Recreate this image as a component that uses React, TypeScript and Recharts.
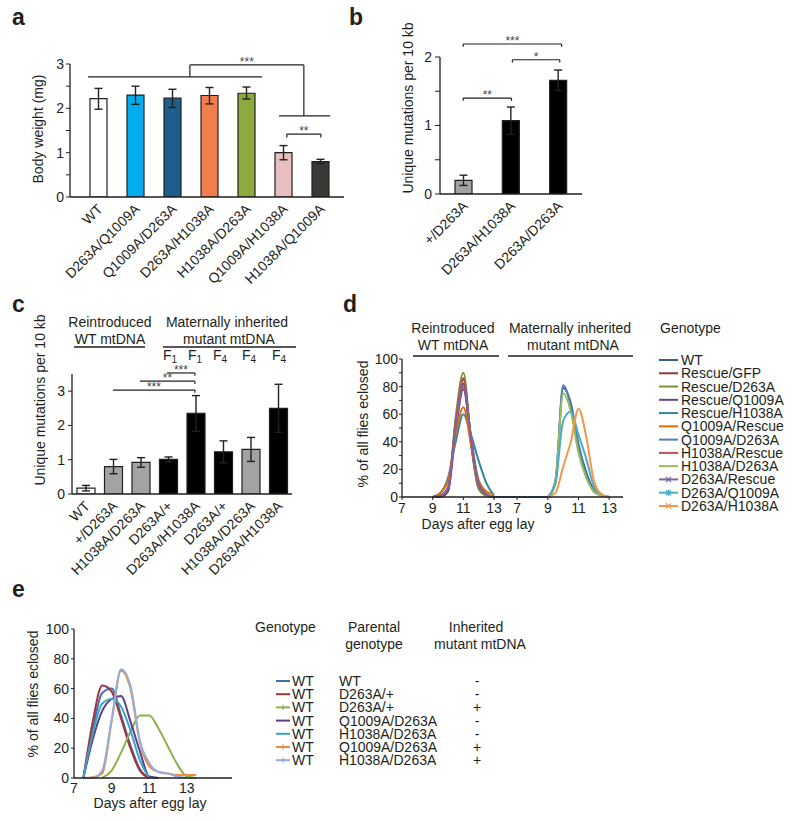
import React from 'react';
import { BarChart, Bar, XAxis, YAxis, ErrorBar, Cell, ReferenceLine, LineChart, Line } from 'recharts';

const FONT = '"Liberation Sans", Arial, Helvetica, sans-serif';
const INK = '#231F20';
const AXIS_H = 30;

// bracket x positions are in bar-index units (0 = centre of first bar)
type Bracket = { x1: number; x2: number; y: number; yl?: number; yr?: number; stars?: string };

/* ---------- a: body weight ---------- */
const aGenotypes = ['WT', 'D263A/Q1009A', 'Q1009A/D263A', 'D263A/H1038A', 'H1038A/D263A', 'Q1009A/H1038A', 'H1038A/Q1009A'];
const aWeight = [2.22, 2.30, 2.23, 2.29, 2.34, 1.0, 0.8];
const aErrLow = [0.24, 0.21, 0.21, 0.19, 0.13, 0.16, 0.05];
const aErrHigh = [0.23, 0.2, 0.2, 0.18, 0.14, 0.16, 0.05];
const aFills = ['#FFFFFF', '#00AEEF', '#1D5E8C', '#F27E4C', '#8DAA3E', '#E7BFBF', '#3A3A35'];
const aTicks = [0, 0.5, 1, 1.5, 2, 2.5, 3];
const aBrackets: Bracket[] = [
  { x1: 2.47, x2: 5.55, y: 2.98, yl: 2.71, yr: 1.83, stars: '***' },
  { x1: -0.28, x2: 4.42, y: 2.71 },
  { x1: 4.88, x2: 6.26, y: 1.83 },
  { x1: 5.09, x2: 6.01, y: 1.42, yl: 1.34, yr: 1.34, stars: '**' },
];

/* ---------- b: mutations ---------- */
const bGenotypes = ['+/D263A', 'D263A/H1038A', 'D263A/D263A'];
const bMutations = [0.2, 1.07, 1.66];
const bErr = [0.075, 0.2, 0.15];
const bFills = ['#A3A3A3', '#000000', '#000000'];
const bTicks = [0, 0.5, 1, 1.5, 2];
const bBrackets: Bracket[] = [
  { x1: -0.01, x2: 2.07, y: 2.19, yl: 2.15, yr: 2.15, stars: '***' },
  { x1: 1.03, x2: 2.03, y: 1.96, yl: 1.92, yr: 1.92, stars: '*' },
  { x1: -0.01, x2: 1.01, y: 1.4, yl: 1.36, yr: 1.36, stars: '**' },
];

/* ---------- c: mutations over generations ---------- */
const cGenotypes = ['WT', '+/D263A', 'H1038A/D263A', 'D263A/+', 'D263A/H1038A', 'D263A/+', 'H1038A/D263A', 'D263A/H1038A'];
const cMutations = [0.17, 0.8, 0.92, 1.01, 2.35, 1.23, 1.3, 2.5];
const cErr = [0.08, 0.21, 0.14, 0.07, 0.52, 0.32, 0.35, 0.7];
const cFills = ['#FFFFFF', '#A3A3A3', '#A3A3A3', '#000000', '#000000', '#000000', '#A3A3A3', '#000000'];
const cTicks = [0, 1, 2, 3];
const cGenerations = ['1', '1', '4', '4', '4'];
const cGenerationX = [163, 188, 213, 242, 272];
const cBrackets: Bracket[] = [
  { x1: 0.99, x2: 3.97, y: 3.03, yr: 2.95, stars: '***' },
  { x1: 1.97, x2: 3.97, y: 3.29, yr: 3.21, stars: '**' },
  { x1: 2.95, x2: 3.97, y: 3.53, yr: 3.45, stars: '***' },
];

/* ---------- d: eclosion, two blocks ---------- */
const dDays = [9, 9.5, 10, 10.5, 11, 11.5, 12, 12.5, 13];
const dSecondBlockShift = 7.5;
const dDomain: [number, number] = [7, 21.4];
const dFirstBlockTicks = [7, 9, 11, 13];
const dSecondBlockTicks = [7, 9, 11, 13];
const dGenotypes = ['WT', 'Rescue/GFP', 'Rescue/D263A', 'Rescue/Q1009A', 'Rescue/H1038A', 'Q1009A/Rescue', 'Q1009A/D263A', 'H1038A/Rescue', 'H1038A/D263A', 'D263A/Rescue', 'D263A/Q1009A', 'D263A/H1038A'];
const dColors = ['#376092', '#953735', '#77933C', '#604A7B', '#31859C', '#E46C0A', '#4F81BD', '#C0504D', '#9BBB59', '#8064A2', '#4BACC6', '#F79646'];
const dMarkers = ['', '', '', '', '', '', '', '', '', 'x', '*', 'x'];
const dReintroduced: (number[] | null)[] = [
  [0, 1, 7, 52, 82, 38, 6, 1, 0],
  [0, 1, 6, 55, 86, 40, 8, 2, 0],
  [0, 1, 5, 58, 90, 40, 6, 1, 0],
  [0, 0, 4, 48, 78, 42, 10, 2, 0],
  [0, 3, 14, 40, 60, 45, 26, 10, 1],
  [0, 3, 12, 45, 65, 38, 12, 4, 2],
  null,
  [0, 1, 6, 54, 85, 42, 8, 2, 0],
  null,
  [0, 1, 7, 50, 80, 44, 10, 2, 0],
  null,
  null,
];
const dInherited: (number[] | null)[] = [
  [0, 12, 79, 68, 38, 18, 5, 1, 0],
  null,
  null,
  null,
  null,
  null,
  [0, 10, 81, 66, 36, 16, 4, 1, 0],
  null,
  [0, 12, 75, 62, 32, 14, 4, 1, 0],
  null,
  [0, 10, 55, 62, 45, 28, 8, 2, 0],
  [0, 3, 22, 40, 64, 44, 12, 2, 0],
];

/* ---------- e: eclosion of WT offspring ---------- */
const eDays = [7.5, 8, 8.5, 9, 9.5, 10, 10.5, 11, 11.5, 12, 12.5, 13, 13.5];
const eGenotypes = ['WT', 'WT', 'WT', 'WT', 'WT', 'WT', 'WT'];
const eParental = ['WT', 'D263A/+', 'D263A/+', 'Q1009A/D263A', 'H1038A/D263A', 'Q1009A/D263A', 'H1038A/D263A'];
const eInheritedMutant = ['-', '-', '+', '-', '-', '+', '+'];
const eColors = ['#3E6FB0', '#A3343A', '#8DB04A', '#5B3F8C', '#3BA3C4', '#F08A3C', '#93AEDC'];
const eMarkers = ['', '', '+', '', '', '+', '+'];
const eCurves: (number | null)[][] = [
  [0, 33, 57, 60, 42, 22, 6, 0, null, null, null, null, null],
  [0, 38, 62, 58, 40, 20, 5, 0, null, null, null, null, null],
  [null, null, 0, 5, 17, 31, 42, 42, 33, 21, 9, 1, 0],
  [0, 26, 45, 53, 55, 38, 18, 1, 0, null, null, null, null],
  [0, 30, 50, 53, 48, 32, 12, 0, null, null, null, null, null],
  [0, 0.5, 3, 38, 72, 60, 24, 8, 4, 3, 2, 2, 2],
  [0, 0, 5, 39, 73, 62, 25, 10, 4, 3, 1, 0, null],
];

/* ---------- d chart geometry ---------- */
const D_LEFT = 330, D_TOP = 320, D_W = 310, D_H = 230, D_YW = 72, D_MR = 17, D_MB = 53;
const dPlotLeft = D_LEFT + D_YW;
const dPlotWidth = D_W - D_YW - D_MR;
const dPlotBottom = D_TOP + D_H - D_MB;
const dPos = (v: number) => dPlotLeft + ((v - dDomain[0]) / (dDomain[1] - dDomain[0])) * dPlotWidth;
const dAxisTicks = [...dFirstBlockTicks, ...dSecondBlockTicks.map((d) => d + dSecondBlockShift)];

/* ---------- helpers ---------- */
function bracketLines(list: Bracket[], prefix: string) {
  const out: React.ReactNode[] = [];
  list.forEach((b, i) => {
    out.push(
      <ReferenceLine
        key={`${prefix}h${i}`}
        xAxisId="n"
        segment={[{ x: b.x1, y: b.y }, { x: b.x2, y: b.y }]}
        stroke={INK}
        strokeWidth={1.2}
        ifOverflow="visible"
        label={b.stars ? { value: b.stars, position: 'top', offset: -1, fontSize: 12, fill: '#444' } : undefined}
      />
    );
    if (b.yl != null)
      out.push(
        <ReferenceLine key={`${prefix}l${i}`} xAxisId="n" segment={[{ x: b.x1, y: b.y }, { x: b.x1, y: b.yl }]} stroke={INK} strokeWidth={1.2} ifOverflow="visible" />
      );
    if (b.yr != null)
      out.push(
        <ReferenceLine key={`${prefix}r${i}`} xAxisId="n" segment={[{ x: b.x2, y: b.y }, { x: b.x2, y: b.yr }]} stroke={INK} strokeWidth={1.2} ifOverflow="visible" />
      );
  });
  return out;
}

const intLabel = (v: number) => (Number.isInteger(v) ? String(v) : '');
const every20 = (v: number) => (v % 20 === 0 ? String(v) : '');

function rotTick(labels: string[]) {
  return (p: any) => {
    const tx = p.x + 5;
    const ty = p.y + 11;
    return (
      <text x={tx} y={ty} transform={`rotate(-45 ${tx} ${ty})`} textAnchor="end" fontSize={14} fill={INK} fontFamily={FONT}>
        {labels[Number(p.payload.value)]}
      </text>
    );
  };
}

const emptyTick = () => <g />;

type BarPanelProps = {
  left: number; top: number; width: number; height: number;
  margin: { top: number; right: number; bottom: number; left: number };
  yWidth: number; domain: [number, number]; ticks: number[];
  names: string[]; values: number[]; errs: (number | number[])[]; fills: string[];
  barSize: number; padding: { left: number; right: number }; brackets: Bracket[];
  tickSize: number; tickMargin: number; prefix: string;
};

function BarPanel(pr: BarPanelProps) {
  const data = pr.names.map((n, i) => ({ id: i, value: pr.values[i], err: pr.errs[i] }));
  const m = { ...pr.margin, bottom: pr.margin.bottom - AXIS_H };
  const n = pr.names.length;
  const bandHalf = (pr.width - pr.margin.left - pr.margin.right - pr.yWidth - pr.padding.left - pr.padding.right) / n / 2;
  const idPadding = { left: pr.padding.left + bandHalf, right: pr.padding.right + bandHalf };
  return (
    <div style={{ position: 'absolute', left: pr.left, top: pr.top }}>
      <BarChart width={pr.width} height={pr.height} data={data} margin={m} barCategoryGap={0}>
        <XAxis
          dataKey="id"
          type="category"
          height={AXIS_H}
          padding={pr.padding}
          interval={0}
          tickLine={false}
          tickSize={0}
          tick={rotTick(pr.names)}
          axisLine={{ stroke: INK, strokeWidth: 1.3 }}
        />
        <XAxis xAxisId="n" dataKey="id" type="number" domain={[0, n - 1]} padding={idPadding} hide allowDataOverflow />
        <YAxis
          width={pr.yWidth}
          domain={pr.domain}
          ticks={pr.ticks}
          interval={0}
          allowDataOverflow
          tickFormatter={intLabel}
          tickSize={pr.tickSize}
          tickMargin={pr.tickMargin}
          tick={{ fontSize: 14, fill: INK, fontFamily: FONT }}
          axisLine={{ stroke: INK, strokeWidth: 1.3 }}
          tickLine={{ stroke: INK, strokeWidth: 1 }}
        />
        <Bar dataKey="value" barSize={pr.barSize} stroke={INK} strokeWidth={1.2} isAnimationActive={false}>
          {pr.fills.map((f, i) => (
            <Cell key={i} fill={f} />
          ))}
          <ErrorBar dataKey="err" width={4} stroke={INK} strokeWidth={1.4} />
        </Bar>
        {bracketLines(pr.brackets, pr.prefix)}
      </BarChart>
    </div>
  );
}

/* ---------- line data ---------- */
const dData = [
  ...dDays.map((d, j) => {
    const row: Record<string, number> = { x: d };
    dReintroduced.forEach((arr, i) => {
      if (arr) row['s' + i] = arr[j];
    });
    return row;
  }),
  ...dDays.map((d, j) => {
    const row: Record<string, number> = { x: d + dSecondBlockShift };
    dInherited.forEach((arr, i) => {
      if (arr) row['s' + i] = arr[j];
    });
    return row;
  }),
];

const eData = eDays.map((d, j) => {
  const row: Record<string, number | null> = { x: d };
  eCurves.forEach((arr, i) => {
    row['s' + i] = arr[j];
  });
  return row;
});

function Marker({ kind, cx, cy, color }: { kind: string; cx: number; cy: number; color: string }) {
  if (!kind) return null;
  const s = 2.6;
  if (kind === '+')
    return <line x1={cx} y1={cy - s} x2={cx} y2={cy + s} stroke={color} strokeWidth={1.2} />;
  return (
    <g stroke={color} strokeWidth={1.2}>
      <line x1={cx - s} y1={cy - s} x2={cx + s} y2={cy + s} />
      <line x1={cx - s} y1={cy + s} x2={cx + s} y2={cy - s} />
      {kind === '*' ? <line x1={cx} y1={cy - s - 0.6} x2={cx} y2={cy + s + 0.6} /> : null}
    </g>
  );
}

function Overlay() {
  const t = { fontSize: 14, fill: INK, fontFamily: FONT } as const;
  const letter = { fontSize: 23, fontWeight: 700, fill: INK, fontFamily: FONT } as const;
  const yTitle = (x: number, y: number, s: string) => (
    <text x={x} y={y} transform={`rotate(-90 ${x} ${y})`} textAnchor="middle" dy="0.35em" {...t}>
      {s}
    </text>
  );
  const labelY = dPlotBottom + 16;
  return (
    <svg width={800} height={821} style={{ position: 'absolute', left: 0, top: 0, pointerEvents: 'none', zIndex: 10 }}>
      <text x={12} y={25} {...letter}>a</text>
      <text x={349} y={25} {...letter}>b</text>
      <text x={12} y={312} {...letter}>c</text>
      <text x={343} y={312} {...letter}>d</text>
      <text x={12} y={597} {...letter}>e</text>

      {yTitle(38, 129, 'Body weight (mg)')}
      {yTitle(408, 108, 'Unique mutations per 10 kb')}
      {yTitle(40, 400, 'Unique mutations per 10 kb')}
      {yTitle(363, 424, '% of all flies eclosed')}
      {yTitle(33, 694, '% of all flies eclosed')}

      {/* c headers */}
      <text x={110} y={327} textAnchor="middle" {...t}>Reintroduced</text>
      <text x={110} y={344} textAnchor="middle" {...t}>WT mtDNA</text>
      <line x1={74} y1={347} x2={145} y2={347} stroke={INK} strokeWidth={1.3} />
      <text x={227} y={327} textAnchor="middle" {...t}>Maternally inherited</text>
      <text x={229} y={344} textAnchor="middle" {...t}>mutant mtDNA</text>
      <line x1={163} y1={347} x2={296} y2={347} stroke={INK} strokeWidth={1.3} />
      {cGenerations.map((g, i) => (
        <text key={'g' + i} x={cGenerationX[i]} y={360} {...t}>
          F<tspan fontSize={10} dy={2.5}>{g}</tspan>
        </text>
      ))}

      {/* d day labels: first block */}
      {dFirstBlockTicks.map((v, i) => (
        <text key={'dxa' + i} x={dPos(v)} y={labelY} textAnchor="middle" {...t}>
          {String(v)}
        </text>
      ))}
      {/* d day labels: second block (same days, shifted along the shared axis) */}
      <g>
        {dSecondBlockTicks.map((v, i) => (
          <text key={'dxb' + i} x={dPos(v + dSecondBlockShift)} y={labelY} textAnchor="middle" {...t}>
            {String(v)}
          </text>
        ))}
      </g>

      {/* d headers */}
      <text x={453} y={333} textAnchor="middle" {...t}>Reintroduced</text>
      <text x={453} y={350} textAnchor="middle" {...t}>WT mtDNA</text>
      <line x1={413} y1={356} x2={499} y2={356} stroke={INK} strokeWidth={1.3} />
      <text x={570} y={333} textAnchor="middle" {...t}>Maternally inherited</text>
      <text x={573} y={350} textAnchor="middle" {...t}>mutant mtDNA</text>
      <line x1={508} y1={356} x2={633} y2={356} stroke={INK} strokeWidth={1.3} />
      <text x={478} y={529} textAnchor="middle" {...t}>Days after egg lay</text>

      {/* d legend */}
      <text x={660} y={333} {...t}>Genotype</text>
      {dGenotypes.map((g, i) => {
        const by = 365 + i * 13.27;
        return (
          <g key={'dl' + i}>
            <line x1={659} y1={by - 5} x2={678} y2={by - 5} stroke={dColors[i]} strokeWidth={2} />
            <Marker kind={dMarkers[i]} cx={668.5} cy={by - 5} color={dColors[i]} />
            <text x={681} y={by} {...t}>{g}</text>
          </g>
        );
      })}

      {/* e legend */}
      <text x={150} y={808} textAnchor="middle" {...t}>Days after egg lay</text>
      <text x={255} y={632} {...t}>Genotype</text>
      <text x={374} y={632} textAnchor="middle" {...t}>Parental</text>
      <text x={374} y={649} textAnchor="middle" {...t}>genotype</text>
      <text x={476} y={632} textAnchor="middle" {...t}>Inherited</text>
      <text x={480} y={649} textAnchor="middle" {...t}>mutant mtDNA</text>
      {eGenotypes.map((g, i) => {
        const by = 686 + i * 13.2;
        return (
          <g key={'el' + i}>
            <line x1={276} y1={by - 5} x2={290} y2={by - 5} stroke={eColors[i]} strokeWidth={2} />
            <Marker kind={eMarkers[i]} cx={283} cy={by - 5} color={eColors[i]} />
            <text x={292} y={by} {...t}>{g}</text>
            <text x={339} y={by} {...t}>{eParental[i]}</text>
            <text x={477} y={by} textAnchor="middle" {...t}>{eInheritedMutant[i]}</text>
          </g>
        );
      })}
    </svg>
  );
}

export default function App() {
  return (
    <div style={{ position: 'absolute', left: 0, top: 0, width: 800, height: 821, background: '#fff', fontFamily: FONT, overflow: 'hidden' }}>
      <BarPanel
        prefix="a" left={0} top={0} width={360} height={300}
        margin={{ top: 64, right: 16, bottom: 103, left: 0 }}
        yWidth={70} domain={[0, 3]} ticks={aTicks}
        names={aGenotypes} values={aWeight}
        errs={aErrLow.map((l, i) => [l, aErrHigh[i]])}
        fills={aFills} barSize={17} padding={{ left: 10, right: 5 }}
        brackets={aBrackets} tickSize={4} tickMargin={2}
      />
      <BarPanel
        prefix="b" left={370} top={0} width={220} height={290}
        margin={{ top: 57, right: 8, bottom: 96, left: 0 }}
        yWidth={70} domain={[0, 2]} ticks={bTicks}
        names={bGenotypes} values={bMutations} errs={bErr}
        fills={bFills} barSize={17} padding={{ left: 0, right: 0 }}
        brackets={bBrackets} tickSize={5} tickMargin={3}
      />
      <BarPanel
        prefix="c" left={0} top={330} width={310} height={250}
        margin={{ top: 44, right: 18, bottom: 86, left: 0 }}
        yWidth={72} domain={[0, 3.5]} ticks={cTicks}
        names={cGenotypes} values={cMutations} errs={cErr}
        fills={cFills} barSize={18} padding={{ left: 0, right: 0 }}
        brackets={cBrackets} tickSize={4} tickMargin={3}
      />

      <div style={{ position: 'absolute', left: D_LEFT, top: D_TOP }}>
        <LineChart width={D_W} height={D_H} data={dData} margin={{ top: 39, right: D_MR, bottom: D_MB - AXIS_H, left: 0 }}>
          <XAxis
            dataKey="x" type="number" height={AXIS_H} domain={dDomain} ticks={dAxisTicks} interval={0} allowDataOverflow
            tickSize={3} tickMargin={2} tick={emptyTick}
            axisLine={{ stroke: INK, strokeWidth: 1.3 }} tickLine={{ stroke: INK }}
          />
          <YAxis
            width={D_YW} domain={[0, 100]} ticks={[0, 10, 20, 30, 40, 50, 60, 70, 80, 90, 100]} interval={0}
            tickFormatter={every20} tickSize={3} tickMargin={1}
            tick={{ fontSize: 14, fill: INK, fontFamily: FONT }}
            axisLine={{ stroke: INK, strokeWidth: 1.3 }} tickLine={{ stroke: INK }}
          />
          {dGenotypes.map((g, i) => (
            <Line key={g} dataKey={'s' + i} name={g} stroke={dColors[i]} strokeWidth={2} type="monotone" dot={false} connectNulls isAnimationActive={false} />
          ))}
        </LineChart>
      </div>

      <div style={{ position: 'absolute', left: 0, top: 600 }}>
        <LineChart width={250} height={210} data={eData} margin={{ top: 29, right: 18, bottom: 32 - AXIS_H, left: 0 }}>
          <XAxis
            dataKey="x" type="number" height={AXIS_H} domain={[7, 15.4]} ticks={[7, 9, 11, 13]} interval={0} allowDataOverflow
            tickSize={3} tickMargin={2} tickLine={false}
            tick={{ fontSize: 14, fill: INK, fontFamily: FONT }}
            axisLine={{ stroke: INK, strokeWidth: 1.3 }}
          />
          <YAxis
            width={74} domain={[0, 100]} ticks={[0, 20, 40, 60, 80, 100]} interval={0}
            tickSize={3} tickMargin={2}
            tick={{ fontSize: 14, fill: INK, fontFamily: FONT }}
            axisLine={{ stroke: INK, strokeWidth: 1.3 }} tickLine={{ stroke: INK }}
          />
          {eCurves.map((_, i) => (
            <Line key={i} dataKey={'s' + i} name={eParental[i]} stroke={eColors[i]} strokeWidth={2} type="monotone" dot={false} connectNulls isAnimationActive={false} />
          ))}
        </LineChart>
      </div>

      <Overlay />
    </div>
  );
}
